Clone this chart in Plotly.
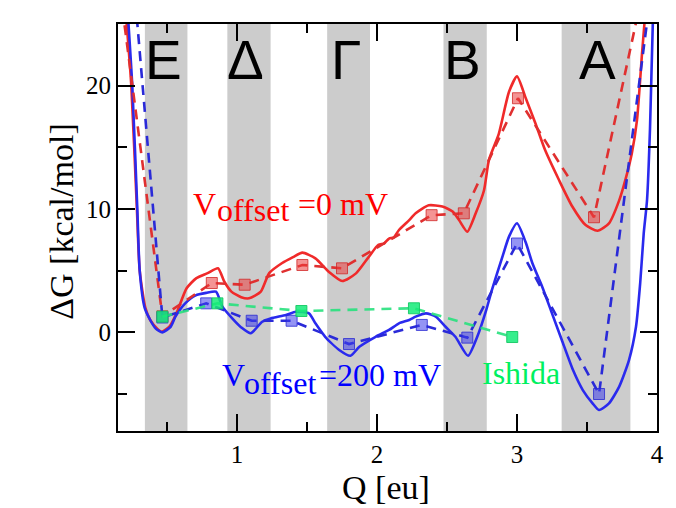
import plotly.graph_objects as go

# ---- data ----
red_solid_q = [0.212, 0.245, 0.285, 0.305, 0.345, 0.38, 0.43, 0.461, 0.52, 0.568, 0.64, 0.71, 0.79, 0.864,
               0.91, 0.96, 1.03, 1.086, 1.17, 1.23, 1.32, 1.40, 1.467, 1.56, 1.657, 1.752, 1.85, 1.94,
               2.01, 2.05, 2.086, 2.12, 2.157, 2.23, 2.276, 2.37, 2.467, 2.54, 2.586, 2.645, 2.705,
               2.764, 2.8, 2.87, 2.943, 3.0, 3.062, 3.13, 3.2, 3.3, 3.395, 3.49, 3.575, 3.657, 3.73,
               3.775, 3.82, 3.857, 3.893, 3.91, 3.93]
red_solid_g = [25, 20, 10, 5, 2, 1.0, 0.3, 0.05, 0.5, 1.54, 3.57, 4.4, 4.8, 5.2,
               4.1, 3.3, 2.85, 2.76, 3.3, 4.8, 5.6, 6.1, 6.46, 6.0, 4.9, 4.16, 4.78, 6.1,
               7.1, 7.2, 7.6, 7.7, 8.3, 9.1, 9.65, 10.3, 10.2, 9.8, 9.1, 8.16, 9.65,
               11.5, 14.0, 16.1, 19.5, 20.75, 19.0, 17.0, 14.8, 12.35, 10.2, 8.7, 8.24, 8.84, 10.7,
               12.4, 14.5, 17.2, 22.6, 25, 28]

blue_solid_q = [0.225, 0.252, 0.288, 0.305, 0.34, 0.38, 0.42, 0.467, 0.526, 0.56, 0.63, 0.705, 0.78, 0.85,
                0.895, 0.966, 1.03, 1.098, 1.18, 1.24, 1.35, 1.42, 1.514, 1.56, 1.63, 1.73, 1.81, 1.874,
                1.99, 2.086, 2.157, 2.23, 2.276, 2.35, 2.42, 2.49, 2.56, 2.65, 2.716, 2.78, 2.82, 2.895,
                2.943, 3.0, 3.062, 3.11, 3.18, 3.25, 3.32, 3.4, 3.47, 3.54, 3.586, 3.657, 3.73, 3.8,
                3.85, 3.88, 3.905, 3.929, 3.95, 3.97, 3.985]
blue_solid_g = [25, 20, 10, 5, 2, 1, 0.3, 0.0, 0.45, 1.27, 2.35, 3.0, 3.2, 3.3,
                2.1, 1.13, 0.4, -0.08, 0.86, 1.13, 1.4, 1.67, 1.54, 0.73, -0.36, -1.43, -1.9, -1.17,
                -0.36, 0.19, 0.73, 1.0, 1.27, 1.54, 1.27, 0.45, -0.36, -1.9, -0.36, 1.8, 3.4, 6.1,
                7.76, 8.84, 7.3, 5.6, 3.7, 1.54, -0.62, -3.06, -4.68, -5.76, -6.3, -5.76, -4.4, -2.25,
                0.45, 4.0, 8.0, 10.75, 16.5, 25, 29]

red_sq_q = [0.15, 0.467, 0.82, 1.055, 1.467, 1.75, 2.39, 2.62, 3.007, 3.55, 4.0]
red_sq_g = [29.0, 1.3, 4.0, 3.86, 5.46, 5.19, 9.5, 9.65, 18.98, 9.33, 33.0]

blue_sq_q = [0.15, 0.467, 0.78, 1.105, 1.39, 1.80, 2.32, 2.645, 3.0, 3.586, 4.0]
blue_sq_g = [43.4, 1.2, 2.35, 0.94, 0.94, -0.95, 0.6, -0.43, 7.2, -5.0, 31.4]

ishida_q = [0.467, 0.86, 1.46, 2.264, 2.966]
ishida_g = [1.27, 2.35, 1.73, 1.95, -0.38]

band_start = [0.342, 0.931, 1.644, 2.475, 3.319]
band_end = [0.646, 1.240, 1.950, 2.784, 3.810]
band_labels = ["E", "Δ", "Γ", "B", "A"]
band_label_q = [0.473, 1.060, 1.776, 2.610, 3.572]

x_ticks = [1, 2, 3, 4]
y_ticks = [0, 10, 20]

RED = "#f02a2a"
BLUE = "#2a2aee"

fig = go.Figure()

# solid curves
fig.add_trace(go.Scatter(x=red_solid_q, y=red_solid_g, mode="lines",
                         line=dict(color=RED, width=2.6, shape="spline", smoothing=0.6),
                         showlegend=False))
fig.add_trace(go.Scatter(x=blue_solid_q, y=blue_solid_g, mode="lines",
                         line=dict(color=BLUE, width=2.6, shape="spline", smoothing=0.6),
                         showlegend=False))
# dashed with squares
fig.add_trace(go.Scatter(x=red_sq_q, y=red_sq_g, mode="lines+markers",
                         line=dict(color="#e03030", width=2.6, dash="10px,7px"),
                         marker=dict(symbol="square", size=11,
                                     color="rgba(235,60,60,0.55)",
                                     line=dict(color="rgba(210,40,40,0.8)", width=1)),
                         showlegend=False))
fig.add_trace(go.Scatter(x=blue_sq_q, y=blue_sq_g, mode="lines+markers",
                         line=dict(color="#2a2ad8", width=2.6, dash="10px,7px"),
                         marker=dict(symbol="square", size=11,
                                     color="rgba(60,60,235,0.55)",
                                     line=dict(color="rgba(40,40,210,0.8)", width=1)),
                         showlegend=False))
fig.add_trace(go.Scatter(x=ishida_q, y=ishida_g, mode="lines+markers",
                         line=dict(color="rgba(40,225,125,0.9)", width=2.6, dash="10px,7px"),
                         marker=dict(symbol="square", size=11,
                                     color="rgba(20,235,120,0.85)",
                                     line=dict(color="rgba(20,200,100,0.9)", width=1)),
                         showlegend=False))

shapes = []
for s, e in zip(band_start, band_end):
    shapes.append(dict(type="rect", xref="x", yref="paper", x0=s, x1=e, y0=0, y1=1,
                       fillcolor="#cccccc", line=dict(width=0), layer="below"))

ann = []
for lab, q in zip(band_labels, band_label_q):
    ann.append(dict(x=q, y=22.1, xref="x", yref="y", text=lab, showarrow=False,
                    font=dict(family="Liberation Sans", size=55, color="black"),
                    xanchor="center", yanchor="middle"))

serif = "Liberation Serif"


def txt(x, y, t, color, size=32):
    return dict(x=x, y=y, xref="x", yref="y", text=t, showarrow=False,
                font=dict(family=serif, size=size, color=color),
                xanchor="left", yanchor="middle", borderpad=0)


ann += [
    txt(0.682, 10.42, "V", "#ff0000"),
    txt(0.853, 9.93, "offset", "#ff0000"),
    txt(1.432, 10.42, "=0 mV", "#ff0000"),
    txt(0.889, -3.47, "V", "#0000ff"),
    txt(1.043, -4.08, "offset", "#0000ff"),
    txt(1.577, -3.47, "=200 mV", "#0000ff"),
    txt(2.741, -3.26, "Ishida", "#00f060"),
]

ann.append(dict(x=-0.105, y=0.515, xref="paper", yref="paper", text="ΔG [kcal/mol]",
                textangle=-90, showarrow=False, font=dict(family=serif, size=34, color="black"),
                xanchor="center", yanchor="middle"))
ann.append(dict(x=0.497, y=-0.138, xref="paper", yref="paper", text="Q [eu]",
                showarrow=False, font=dict(family=serif, size=34, color="black"),
                xanchor="center", yanchor="middle", borderpad=0))

axis_common = dict(showline=True, linecolor="black", linewidth=2, mirror="ticks",
                   ticks="inside", ticklen=17, tickwidth=2, tickcolor="black",
                   showgrid=False, zeroline=False,
                   tickfont=dict(family=serif, size=25, color="black"))

fig.update_layout(
    width=676, height=508,
    margin=dict(l=118, r=17, t=24, b=77),
    plot_bgcolor="white", paper_bgcolor="white",
    shapes=shapes, annotations=ann,
    xaxis=dict(range=[0.15, 4.0], tickvals=x_ticks, ticktext=[str(v) for v in x_ticks],
               minor=dict(ticks="inside", ticklen=9, tickwidth=2, tickcolor="black", dtick=0.5,
                          tick0=0, showgrid=False),
               **axis_common),
    yaxis=dict(range=[-8, 25], tickvals=y_ticks, ticktext=[str(v) for v in y_ticks],
               minor=dict(ticks="inside", ticklen=9, tickwidth=2, tickcolor="black", dtick=5,
                          tick0=0, showgrid=False),
               **axis_common),
)

fig.write_html("out.html", config={"displayModeBar": False},
               post_script="document.body.style.margin='0';")
